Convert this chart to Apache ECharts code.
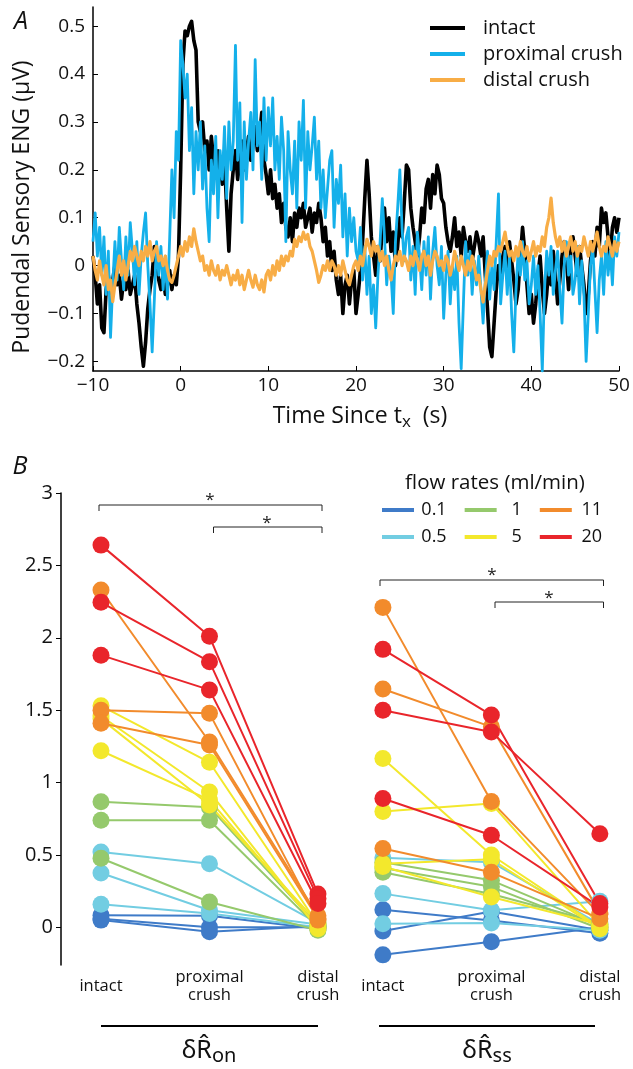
<!DOCTYPE html>
<html><head><meta charset="utf-8">
<script src="https://cdn.jsdelivr.net/npm/echarts@6/dist/echarts.min.js"></script>
<style>html,body{margin:0;padding:0;background:#fff;}#c{width:633px;height:1069px;}</style>
</head><body><div id="c"></div>
<script>
// ---------- Panel A data ----------
const TRACE_NAMES = ['intact', 'proximal crush', 'distal crush'];
const TRACE_T0 = -10;
const TRACE_DT = 0.25;
const INTACT = [
 0.02,-0.02,-0.08,-0.04, -0.13,-0.14,-0.05,-0.02, -0.06,-0.03,0.0,-0.04, -0.02,-0.07,-0.03,-0.05,
 -0.01,-0.06,-0.04,-0.02, -0.08,-0.12,-0.17,-0.21, -0.16,-0.09,-0.05,-0.02, 0.04,0.01,-0.03,-0.05,
 -0.02,-0.06,-0.04,-0.01, -0.05,-0.02,-0.04,0.02, 0.2,0.42,0.49,0.48, 0.5,0.51,0.47,0.45,
 0.3,0.28,0.3,0.24, 0.26,0.2,0.27,0.22, 0.19,0.24,0.2,0.17, 0.22,0.12,0.03,0.15,
 0.2,0.24,0.18,0.22, 0.26,0.2,0.24,0.27, 0.22,0.25,0.29,0.24, 0.27,0.32,0.22,0.19,
 0.15,0.2,0.14,0.17, 0.12,0.15,0.09,0.13, 0.08,0.06,0.1,0.05, 0.11,0.08,0.12,0.1,
 0.13,0.08,0.1,0.12, 0.07,0.11,0.09,0.13, 0.1,0.05,0.08,0.02, 0.05,-0.01,0.03,-0.03,
 -0.06,-0.02,-0.1,-0.04, -0.02,-0.08,-0.03,-0.01, -0.1,-0.06,-0.01,0.05, 0.14,0.22,0.15,0.06,
 0.02,-0.02,0.04,0.01, 0.08,0.12,0.05,0.1, 0.03,0.07,0.0,0.04, 0.1,0.06,0.13,0.21,
 0.2,0.12,0.08,0.05, 0.02,0.06,0.12,0.09, 0.16,0.18,0.12,0.19, 0.15,0.21,0.19,0.14,
 0.13,0.08,0.05,0.03, 0.06,0.1,0.04,0.07, 0.02,0.08,0.05,0.03, 0.06,0.01,0.04,0.07,
 0.05,0.02,0.06,-0.02, -0.09,-0.17,-0.19,-0.12, -0.05,0.0,-0.03,0.02, 0.04,-0.02,0.05,0.01,
 -0.03,-0.08,-0.05,0.02, 0.08,0.03,-0.04,-0.1, -0.06,-0.12,-0.08,-0.02, 0.02,-0.05,-0.1,-0.06,
 0.0,-0.04,0.03,-0.02, -0.08,-0.03,0.02,0.05, 0.01,-0.05,0.03,0.06, 0.02,-0.02,0.04,0.0,
 -0.04,-0.1,-0.06,0.01, 0.05,0.02,0.08,0.04, 0.12,0.09,0.11,0.06, 0.02,0.08,0.1,0.07,
 0.1
];
const PROXIMAL = [
 0.05,0.11,0.02,0.08, -0.02,0.06,-0.06,0.03, -0.15,-0.04,0.05,-0.03, 0.08,0.01,-0.05,0.06,
 -0.02,0.09,0.03,-0.04, 0.05,-0.06,0.02,0.07, 0.11,0.0,-0.08,-0.18, -0.07,0.05,-0.02,0.04,
 -0.05,0.02,-0.07,0.06, 0.2,0.1,0.28,0.22, 0.47,0.42,0.35,0.4, 0.24,0.33,0.15,0.28,
 0.2,0.3,0.16,0.25, 0.12,0.05,0.22,0.15, 0.27,0.1,0.24,0.18, 0.29,0.14,0.3,0.2,
 0.26,0.46,0.22,0.34, 0.09,0.3,0.18,0.26, 0.32,0.2,0.43,0.25, 0.3,0.18,0.35,0.22,
 0.33,0.25,0.35,0.2, 0.27,0.18,0.31,0.24, 0.05,0.28,0.2,0.15, 0.26,0.12,0.3,0.22,
 0.345,0.12,0.28,0.2, 0.25,0.31,0.18,0.26, 0.12,0.2,0.1,0.16, 0.22,0.24,0.08,0.18,
 0.13,0.21,0.06,0.15, 0.02,0.12,0.05,0.1, 0.03,0.01,0.08,-0.03, 0.04,-0.06,0.02,-0.1,
 -0.04,-0.13,-0.02,0.05, 0.14,0.06,-0.04,0.02, -0.02,-0.1,0.05,0.12, 0.2,0.08,0.01,0.06,
 0.08,-0.03,0.04,-0.06, 0.07,0.02,-0.05,0.05, -0.02,0.06,-0.07,0.03, 0.08,0.0,-0.04,0.04,
 -0.11,-0.02,0.03,-0.08, 0.0,-0.05,0.02,-0.12, -0.215,-0.08,0.05,-0.02, 0.03,-0.06,0.01,-0.04,
 0.02,-0.05,-0.12,-0.03, 0.03,-0.07,0.0,-0.05, 0.05,0.15,-0.08,-0.02, 0.03,-0.06,0.02,-0.1,
 -0.18,-0.05,0.03,-0.02, 0.05,-0.03,0.01,-0.08, -0.04,0.02,-0.06,0.0, -0.1,-0.22,-0.05,0.03,
 -0.02,0.04,-0.06,-0.01, 0.03,-0.05,-0.12,0.0, 0.05,-0.02,0.02,-0.06, -0.03,0.04,-0.08,0.01,
 -0.06,-0.2,-0.1,0.0, 0.04,-0.05,-0.14,-0.03, 0.02,-0.06,0.05,-0.02, 0.03,-0.04,0.06,0.02,
 0.07
];
const DISTAL = [
 0.02,-0.01,-0.03,0.01, -0.02,-0.04,0.0,-0.05, -0.03,-0.075,-0.04,-0.01, 0.02,-0.02,0.01,-0.03,
 0.0,0.03,0.01,0.04, 0.02,0.0,0.03,0.01, 0.04,0.02,0.05,0.01, 0.03,0.04,0.01,0.02,
 0.0,0.02,-0.01,-0.03, -0.035,-0.02,0.0,0.02, 0.04,0.02,0.05,0.03, 0.06,0.04,0.077,0.05,
 0.03,0.01,0.02,-0.01, 0.0,-0.02,0.01,-0.01, -0.02,0.0,-0.03,-0.01, -0.02,0.0,-0.02,-0.04,
 -0.02,-0.03,-0.01,-0.04, -0.02,-0.05,-0.03,-0.01, -0.03,-0.045,-0.02,-0.04, -0.05,-0.03,-0.055,-0.02,
 -0.01,-0.03,0.0,-0.02, 0.01,-0.01,0.02,0.0, 0.02,0.01,0.03,0.02, 0.055,0.04,0.06,0.05,
 0.07,0.055,0.065,0.04, 0.03,0.01,-0.01,-0.035, -0.02,0.0,-0.01,0.01, -0.01,0.01,0.0,-0.02,
 0.0,-0.02,0.01,-0.01, -0.03,-0.04,-0.02,0.0, 0.01,-0.01,0.02,0.0, 0.03,0.055,0.04,0.02,
 0.05,0.03,0.04,0.01, 0.03,0.0,0.02,-0.01, -0.03,0.0,0.02,0.01, 0.03,0.0,0.02,0.01,
 -0.01,0.02,0.0,0.03, 0.01,-0.01,0.02,0.03, 0.0,0.02,-0.02,0.01, 0.03,0.02,0.0,0.01,
 -0.01,0.02,0.01,-0.02, 0.0,0.03,0.01,-0.01, 0.02,0.0,-0.02,0.01, -0.01,0.02,0.0,-0.03,
 -0.02,-0.05,-0.076,-0.04, -0.01,0.02,0.0,0.03, 0.02,0.04,0.03,0.05, 0.07,0.04,0.02,0.03,
 0.01,0.04,0.02,0.05, 0.03,0.02,0.04,0.01, 0.03,0.05,0.02,0.04, 0.03,0.06,0.04,0.08,
 0.1,0.141,0.09,0.06, 0.04,0.06,0.03,0.05, 0.02,0.04,0.06,0.03, 0.05,0.02,0.04,0.03,
 0.06,0.04,0.02,0.05, 0.03,0.05,0.07,0.04, 0.02,0.04,0.03,0.06, 0.04,0.02,0.05,0.03,
 0.05
];
const A_X_TICKS = [-10, 0, 10, 20, 30, 40, 50];
const A_Y_TICKS = [-0.2, -0.1, 0, 0.1, 0.2, 0.3, 0.4, 0.5];

// ---------- Panel B data ----------
const CATEGORIES = ['intact', 'proximal\ncrush', 'distal\ncrush'];
const FLOW_RATES = ['0.1', '0.5', '1', '5', '11', '20'];
const B_Y_TICKS = [0, 0.5, 1, 1.5, 2, 2.5, 3];

// δR_on  (one entry per preparation)
const ON_RATE     = ['0.1','0.1','0.1','0.5','0.5','0.5','1','1','1','5','5','5','5','11','11','11','20','20','20'];
const ON_INTACT   = [0.083,0.06,0.05, 0.52,0.375,0.16, 0.867,0.74,0.477, 1.53,1.46,1.22,1.44, 2.33,1.50,1.41, 2.64,2.245,1.88];
const ON_PROXIMAL = [0.08,0.0,-0.03, 0.44,0.118,0.095, 0.83,0.74,0.175, 1.14,0.935,0.88,0.845, 1.28,1.478,1.26, 2.01,1.835,1.64];
const ON_DISTAL   = [-0.01,0.0,0.01, 0.03,0.02,0.0, 0.01,0.0,-0.02, 0.02,-0.01,0.0,0.03, 0.08,0.05,0.06, 0.23,0.2,0.165];

// δR_ss
const SS_RATE     = ['0.1','0.1','0.1','0.5','0.5','0.5','1','1','1','5','5','5','5','11','11','11','20','20','20'];
const SS_INTACT   = [0.122,-0.025,-0.19, 0.48,0.233,0.025, 0.45,0.38,0.41, 1.167,0.80,0.42,0.44, 2.21,1.646,0.544, 1.92,1.50,0.89];
const SS_PROXIMAL = [0.048,0.11,-0.10, 0.45,0.118,0.03, 0.325,0.23,0.28, 0.50,0.855,0.21,0.47, 0.87,1.385,0.38, 1.466,1.35,0.636];
const SS_DISTAL   = [-0.04,-0.02,0.0, 0.02,0.18,-0.02, 0.01,0.03,-0.01, 0.0,0.01,0.02,-0.01, 0.09,0.10,0.06, 0.164,0.647,0.14];

// ---------- styling ----------
const FONT = "'Open Sans','Noto Sans',sans-serif";
const TXT = '#111';
const TRACE_COLORS = ['#000000', '#14b0ea', '#f8ad46'];
const TRACE_WIDTHS = [3.6, 2.8, 3.2];
const FLOW_COLORS = {'0.1':'#3f7bc8','0.5':'#72cde2','1':'#95c96c','5':'#f3e82c','11':'#f28b2c','20':'#e9252b'};

function fmt(v) { return v < 0 ? '\u2212' + (-v) : String(v); }

const chart = echarts.init(document.getElementById('c'), null, {renderer: 'canvas'});

const traceSeries = [INTACT, PROXIMAL, DISTAL].map((arr, k) => ({
  type: 'line', name: TRACE_NAMES[k], xAxisIndex: 0, yAxisIndex: 0,
  data: arr.map((v, i) => [TRACE_T0 + i * TRACE_DT, v]),
  showSymbol: false, symbol: 'none', silent: true,
  lineStyle: {color: TRACE_COLORS[k], width: TRACE_WIDTHS[k], join: 'round'},
  itemStyle: {color: TRACE_COLORS[k]}
}));

function subjectSeries(rates, a, b, c, idx) {
  const order = rates.map((r, i) => i).sort((i, j) => FLOW_RATES.indexOf(rates[i]) - FLOW_RATES.indexOf(rates[j]));
  return order.map(i => ({
    type: 'line', name: rates[i], xAxisIndex: idx, yAxisIndex: idx,
    data: [[0, a[i]], [1, b[i]], [2, c[i]]],
    symbol: 'circle', symbolSize: 17, showSymbol: true, silent: true,
    lineStyle: {color: FLOW_COLORS[rates[i]], width: 2},
    itemStyle: {color: FLOW_COLORS[rates[i]]},
    emphasis: {disabled: true}
  }));
}

const catAxis = (gi) => ({
  gridIndex: gi, type: 'value', min: -0.3687, max: 2.3,
  axisLine: {show: false, onZero: false}, axisTick: {show: false}, splitLine: {show: false},
  axisLabel: {customValues: [0, 1, 2], formatter: v => CATEGORIES[Math.round(v)],
    fontSize: 16.5, lineHeight: 18, fontFamily: FONT, color: TXT, margin: 21, verticalAlign: 'middle'}
});

const legendB = (names, top) => ({
  data: names, left: 382, top: top, orient: 'horizontal', padding: 0,
  itemWidth: 32, itemHeight: 4, itemGap: 18, icon: 'rect', selectedMode: false,
  formatter: n => '{c|' + n + '}',
  textStyle: {fontSize: 18, fontFamily: FONT, color: TXT,
    rich: {c: {width: 30, align: 'center', fontSize: 18, fontFamily: FONT, color: TXT}}}
});

const option = {
  animation: false,
  backgroundColor: '#fff',
  grid: [
    {left: 93, top: 7, width: 526, height: 364, outerBoundsMode: 'none'},
    {left: 61, top: 493, width: 289.5, height: 472, outerBoundsMode: 'none'},
    {left: 342.9, top: 493, width: 289.5, height: 472, outerBoundsMode: 'none'}
  ],
  xAxis: [
    {gridIndex: 0, type: 'value', min: -10, max: 50, interval: 10,
     axisLine: {show: true, onZero: false, lineStyle: {color: '#000', width: 1.5}},
     axisTick: {show: true, inside: true, length: 5, lineStyle: {color: '#000', width: 1}},
     axisLabel: {fontSize: 19, fontFamily: FONT, color: TXT, margin: 5, formatter: fmt},
     splitLine: {show: false}},
    catAxis(1), catAxis(2)
  ],
  yAxis: [
    {gridIndex: 0, type: 'value', min: -0.22, max: 0.54,
     axisLine: {show: true, onZero: false, lineStyle: {color: '#000', width: 1.5}},
     axisTick: {show: true, inside: true, length: 5, customValues: A_Y_TICKS, lineStyle: {color: '#000', width: 1}},
     axisLabel: {customValues: A_Y_TICKS, fontSize: 19, fontFamily: FONT, color: TXT, margin: 8, formatter: fmt},
     splitLine: {show: false}},
    {gridIndex: 1, type: 'value', min: -0.26, max: 3,
     axisLine: {show: true, onZero: false, lineStyle: {color: '#000', width: 1.5}},
     axisTick: {show: true, inside: false, length: 5, customValues: B_Y_TICKS, lineStyle: {color: '#000', width: 1}},
     axisLabel: {customValues: B_Y_TICKS, fontSize: 20, fontFamily: FONT, color: TXT, margin: 8, formatter: fmt},
     splitLine: {show: false}},
    {gridIndex: 2, type: 'value', min: -0.26, max: 3, show: false, axisLine: {onZero: false}}
  ],
  legend: [
    {data: TRACE_NAMES, left: 430, top: 18, orient: 'vertical', padding: 0,
     itemWidth: 35, itemHeight: 4, itemGap: 6, icon: 'rect', selectedMode: false,
     formatter: n => '{t|' + n + '}',
     textStyle: {fontSize: 20, fontFamily: FONT, color: TXT,
       rich: {t: {padding: [0, 0, 0, 13], fontSize: 20, fontFamily: FONT, color: TXT}}}},
    legendB(['0.1', '1', '11'], 501),
    legendB(['0.5', '5', '20'], 528)
  ],
  series: [].concat(
    traceSeries,
    subjectSeries(ON_RATE, ON_INTACT, ON_PROXIMAL, ON_DISTAL, 1),
    subjectSeries(SS_RATE, SS_INTACT, SS_PROXIMAL, SS_DISTAL, 2)
  ),
  graphic: [
    {type: 'text', x: 21, y: 22, style: {text: 'A', fontSize: 25, fontStyle: 'italic', fontFamily: FONT, fill: TXT, align: 'center', verticalAlign: 'middle'}},
    {type: 'text', x: 20, y: 467, style: {text: 'B', fontSize: 25, fontStyle: 'italic', fontFamily: FONT, fill: TXT, align: 'center', verticalAlign: 'middle'}},
    {type: 'text', x: 22, y: 207, rotation: Math.PI / 2,
     style: {text: 'Pudendal Sensory ENG (\u03bcV)', fontSize: 23, fontFamily: FONT, fill: TXT, align: 'center', verticalAlign: 'middle'}},
    {type: 'text', x: 360, y: 416,
     style: {text: 'Time Since t{sub|x}  (s)', fontSize: 23, fontFamily: FONT, fill: TXT, align: 'center', verticalAlign: 'middle',
       rich: {sub: {fontSize: 17, fontFamily: FONT, fill: TXT, padding: [12, 0, 0, 0]}}}},
    {type: 'text', x: 495, y: 483,
     style: {text: 'flow rates (ml/min)', fontSize: 20.5, fontFamily: FONT, fill: TXT, align: 'center', verticalAlign: 'middle'}},
    // significance brackets
    {type: 'polyline', shape: {points: [[99, 511], [99, 505], [322, 505], [322, 511]]}, style: {stroke: '#222', lineWidth: 1, fill: null}},
    {type: 'polyline', shape: {points: [[213.5, 533], [213.5, 527], [322, 527], [322, 533]]}, style: {stroke: '#222', lineWidth: 1, fill: null}},
    {type: 'polyline', shape: {points: [[380, 586], [380, 580], [603.5, 580], [603.5, 586]]}, style: {stroke: '#222', lineWidth: 1, fill: null}},
    {type: 'polyline', shape: {points: [[495, 608], [495, 602], [603.5, 602], [603.5, 608]]}, style: {stroke: '#222', lineWidth: 1, fill: null}},
    {type: 'text', x: 210, y: 500, style: {text: '*', fontSize: 17, fontFamily: FONT, fill: '#222', align: 'center', verticalAlign: 'middle'}},
    {type: 'text', x: 267, y: 523, style: {text: '*', fontSize: 17, fontFamily: FONT, fill: '#222', align: 'center', verticalAlign: 'middle'}},
    {type: 'text', x: 492, y: 575, style: {text: '*', fontSize: 17, fontFamily: FONT, fill: '#222', align: 'center', verticalAlign: 'middle'}},
    {type: 'text', x: 549, y: 598, style: {text: '*', fontSize: 17, fontFamily: FONT, fill: '#222', align: 'center', verticalAlign: 'middle'}},
    // group underlines and labels
    {type: 'line', shape: {x1: 101, y1: 1026, x2: 318, y2: 1026}, style: {stroke: '#000', lineWidth: 2}},
    {type: 'line', shape: {x1: 379, y1: 1026, x2: 595, y2: 1026}, style: {stroke: '#000', lineWidth: 2}},
    {type: 'text', x: 209, y: 1051,
     style: {text: '{d|\u03b4R\u0302}{s|on}', align: 'center', verticalAlign: 'middle',
       rich: {d: {fontSize: 25, fontFamily: "'Noto Sans',sans-serif", fill: TXT},
              s: {fontSize: 20, fontFamily: "'Noto Sans',sans-serif", fill: TXT, padding: [10, 0, 0, 0]}}}},
    {type: 'text', x: 487, y: 1051,
     style: {text: '{d|\u03b4R\u0302}{s|ss}', align: 'center', verticalAlign: 'middle',
       rich: {d: {fontSize: 25, fontFamily: "'Noto Sans',sans-serif", fill: TXT},
              s: {fontSize: 20, fontFamily: "'Noto Sans',sans-serif", fill: TXT, padding: [10, 0, 0, 0]}}}}
  ]
};
chart.setOption(option);
</script></body></html>
